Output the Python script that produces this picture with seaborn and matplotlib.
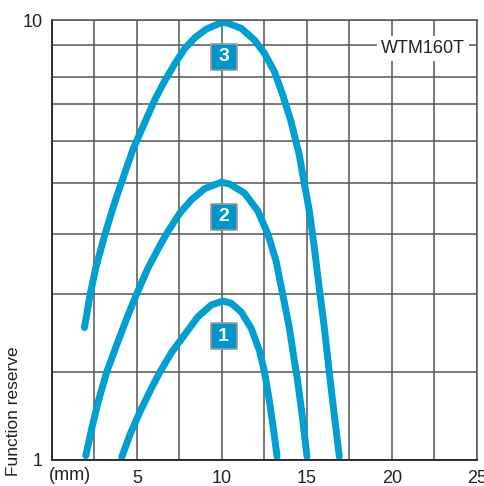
import numpy as np
import pandas as pd
import matplotlib
matplotlib.use('Agg')
import matplotlib.pyplot as plt
import seaborn as sns

# ========== Data ==========
dist_1 = [4.10, 4.59, 5.18, 5.86, 6.35, 7.03, 7.81, 8.59, 9.37, 10.06,
          10.55, 11.13, 11.72, 12.21, 12.5, 12.79, 13.05, 13.24]
reserve_1 = [1.03, 1.29, 1.55, 1.82, 2.0, 2.25, 2.48, 2.71, 2.86, 2.91,
             2.88, 2.77, 2.56, 2.27, 2.0, 1.67, 1.32, 1.04]

dist_2 = [1.99, 2.34, 2.73, 3.22, 3.81, 4.49, 4.98, 5.66, 6.45, 6.84, 7.52, 8.2, 8.98, 9.96,
          10.45, 11.33, 12.11, 12.7, 13.18, 13.57, 13.96, 14.26, 14.45, 14.71, 15.0]
reserve_2 = [1.05, 1.36, 1.67, 2.0, 2.35, 2.74, 3.0, 3.44, 3.86, 4.06, 4.41, 4.67, 4.89, 5.02,
             4.98, 4.8, 4.45, 4.0, 3.55, 3.0, 2.57, 2.14, 1.9, 1.52, 1.04]

dist_3 = [1.91, 2.25, 2.58, 3.12, 3.71, 4.30, 4.78, 4.98, 5.57, 6.05, 6.6, 7.23, 7.81, 8.4,
          9.08, 9.77, 10.06, 10.35, 11.13, 11.91, 12.5, 13.09, 13.57, 14.06, 14.55, 14.84,
          15.14, 15.43, 15.72, 16.02, 16.31, 16.6, 16.9]
reserve_3 = [2.57, 3.0, 3.44, 4.0, 4.64, 5.26, 5.82, 6.0, 6.62, 7.16, 7.82, 8.42, 8.89, 9.29,
             9.64, 9.84, 9.9, 9.87, 9.67, 9.2, 8.74, 8.16, 7.34, 6.53, 5.66, 5.0,
             4.45, 3.78, 3.1, 2.57, 2.0, 1.52, 1.04]

curve_names = ['1', '2', '3']
label_x = 10.1
label_y = [2.46, 4.34, 8.63]  # reserve value where each number box sits

x_ticks = [0, 2.5, 5, 7.5, 10, 12.5, 15, 17.5, 20, 22.5, 25]
x_labels = ['', '', '5', '', '10', '', '15', '', '20', '', '25']
y_ticks = [1, 2, 3, 4, 5, 6, 7, 8, 9, 10]
y_labels = ['1', '', '', '', '', '', '', '', '', '10']

# grid spacing of the original (not a plain log axis), fraction of height
grid_frac = np.array([0, 88, 166, 226, 277, 319, 356, 383, 415, 440]) / 440.0
grid_val = np.array(y_ticks, dtype=float)


def fwd(v):
    return np.interp(v, grid_val, grid_frac)


def inv(f):
    return np.interp(f, grid_frac, grid_val)


frames = []
for name, xs, ys in [('1', dist_1, reserve_1), ('2', dist_2, reserve_2), ('3', dist_3, reserve_3)]:
    frames.append(pd.DataFrame({'dist': xs, 'reserve': ys, 'curve': name}))
df = pd.concat(frames, ignore_index=True)

# ========== Plot ==========
sns.set_style('white')
plt.rcParams['font.family'] = ['Liberation Sans', 'DejaVu Sans']

blue = '#009fd1'
dark = '#222222'
fig = plt.figure(figsize=(4.84, 4.86), dpi=100)
ax = fig.add_axes([0.1074, 0.0535, 0.8781, 0.9053])
ax.set_yscale('function', functions=(fwd, inv))

sns.lineplot(data=df, x='dist', y='reserve', units='curve', estimator=None, sort=False,
             color=blue, linewidth=5, ax=ax, solid_capstyle='round', solid_joinstyle='round')

ax.set_xlim(0, 25)
ax.set_ylim(1, 10)
ax.set_xticks(x_ticks)
ax.set_xticklabels(x_labels)
ax.set_yticks(y_ticks)
ax.set_yticklabels(y_labels)
ax.yaxis.set_minor_locator(matplotlib.ticker.NullLocator())
ax.tick_params(length=0, labelsize=13, colors=dark)
ax.tick_params(axis='x', pad=7)
ax.tick_params(axis='y', pad=7)
ax.grid(True, color='#555555', linewidth=1.1)
ax.set_axisbelow(True)
for side in ['left', 'bottom']:
    ax.spines[side].set_color(dark)
    ax.spines[side].set_linewidth(1.3)
for side in ['top', 'right']:
    ax.spines[side].set_color('#555555')
    ax.spines[side].set_linewidth(1.1)

ax.set_xlabel('')
ax.set_ylabel('Function reserve', fontsize=12.5, color=dark)
ax.yaxis.set_label_coords(-0.072, 0.11)

# unit label sits on the tick label row
ax.text(1.05, -0.016, '(mm)', transform=ax.get_xaxis_transform(), fontsize=13, color=dark,
        ha='center', va='top', clip_on=False)

ax.text(24.3, 8.9, 'WTM160T', fontsize=13, color=dark, ha='right', va='center',
        bbox=dict(facecolor='white', edgecolor='none', pad=3))

# numbered boxes on the curves
ax.scatter([label_x] * 3, label_y, marker='s', s=19 ** 2, color='#0095cb',
           edgecolors='#9a9a9a', linewidths=1.2, zorder=5)
for name, yv in zip(curve_names, label_y):
    ax.text(label_x, yv, name, fontsize=14, fontweight='bold', color='white',
            ha='center', va='center', zorder=6)

plt.savefig('out.png', dpi=100)
plt.close()
